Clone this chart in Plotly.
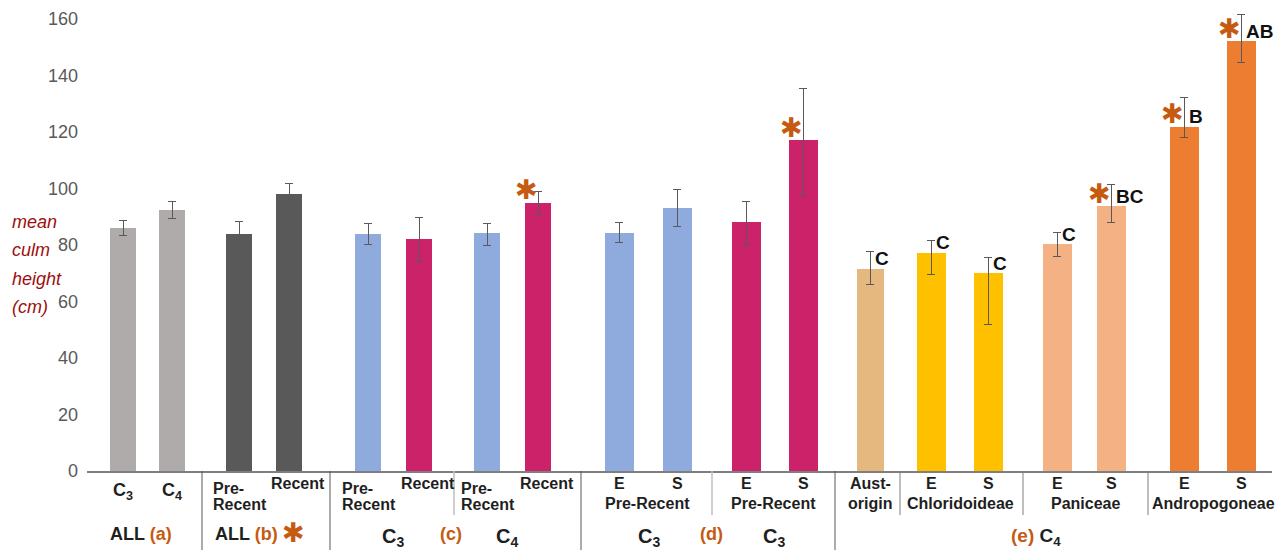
import plotly.graph_objects as go

# ---------------- data ----------------
bar_names = ["ALL C3", "ALL C4", "ALL Pre-Recent", "ALL Recent",
             "C3 Pre-Recent", "C3 Recent", "C4 Pre-Recent", "C4 Recent",
             "C3 Pre-Recent E", "C3 Pre-Recent S", "C3 Recent E", "C3 Recent S",
             "C4 Aust-origin", "Chloridoideae E", "Chloridoideae S",
             "Paniceae E", "Paniceae S", "Andropogoneae E", "Andropogoneae S"]
values = [86.0, 92.3, 83.9, 98.0, 83.9, 82.0, 84.1, 94.9,
          84.2, 93.0, 88.0, 117.0,
          71.6, 77.3, 70.0, 80.2, 93.7, 121.9, 152.2]
err_plus = [2.8, 3.0, 4.4, 3.8, 3.8, 7.9, 3.4, 3.9,
            3.7, 6.8, 7.3, 18.4,
            6.2, 4.4, 5.7, 4.3, 7.8, 10.2, 9.3]
err_minus = [2.8, 3.0, 4.4, 3.8, 3.7, 8.0, 4.4, 4.2,
             3.4, 6.6, 7.8, 19.3,
             5.6, 7.6, 18.3, 4.3, 5.7, 4.0, 7.7]
sig_letters = ["", "", "", "", "", "", "", "",
               "", "", "", "",
               "C", "C", "C", "C", "BC", "B", "AB"]
sig_star = [False, False, False, False, False, False, False, True,
            False, False, False, True,
            False, False, False, False, True, True, True]
y_ticks = [0, 20, 40, 60, 80, 100, 120, 140, 160]

# ---------------- layout / style ----------------
W, H = 1280, 550
ML, MR, MT, MB = 87, 8, 14, 79
PH = H - MT - MB           # plot height in px
AXIS_Y = H - MB            # pixel row of the x axis
# bar slot positions along the x axis (axis units = px)
bar_x = [123, 172, 239, 289, 368, 419, 487, 538,
         619, 677, 746, 803,
         870, 931, 988, 1057, 1111, 1184, 1241]
bar_w = [26] * 8 + [29] * 4 + [27] + [29] * 6

GRAY_L = "#AFABAB"
GRAY_D = "#595959"
BLUE = "#8FAADC"
MAGENTA = "#CB226A"
TAN = "#E5B880"
GOLD = "#FFC000"
PEACH = "#F4B183"
ORANGE = "#ED7D31"
colors = [GRAY_L, GRAY_L, GRAY_D, GRAY_D, BLUE, MAGENTA, BLUE, MAGENTA,
          BLUE, BLUE, MAGENTA, MAGENTA,
          TAN, GOLD, GOLD, PEACH, PEACH, ORANGE, ORANGE]
ACCENT = "#C55A11"
TXT = "#1F1F1F"
FONT = "Liberation Sans, Arial, sans-serif"
STAR = "<b>\u2731</b>"
STAR_FONT = "DejaVu Sans, sans-serif"
STAR_SIZE = 27

fig = go.Figure()
fig.add_trace(go.Bar(
    x=bar_x, y=values, width=bar_w, name="mean culm height",
    marker=dict(color=colors, line=dict(width=0)),
    error_y=dict(type="data", symmetric=False, array=err_plus, arrayminus=err_minus,
                 color="#595959", thickness=1, width=4),
    hovertext=bar_names, showlegend=False,
))


def py(px):
    """pixel row -> paper y"""
    return (AXIS_Y - px) / PH


def px_x(px):
    return (px - ML) / (W - ML - MR)


def label(text, x, ypx, size=16, color=TXT, xanchor="center"):
    fig.add_annotation(text="<b>%s</b>" % text, x=x, xref="x", y=py(ypx), yref="paper",
                       showarrow=False, xanchor=xanchor, yanchor="middle",
                       font=dict(size=size, color=color, family=FONT))


def orange(t):
    return "<span style='color:%s'>%s</span>" % (ACCENT, t)


# significance letters and asterisks
for xi, v, ep, let, st in zip(bar_x, values, err_plus, sig_letters, sig_star):
    if let:
        fig.add_annotation(text="<b>%s</b>" % let, x=xi + 3, y=v, xref="x", yref="y",
                           xanchor="left", yanchor="middle", yshift=10, showarrow=False,
                           font=dict(size=19, color="#111111", family=FONT))
    if st:
        fig.add_annotation(text=STAR, x=xi - 12, y=v, xref="x", yref="y",
                           xanchor="center", yanchor="middle", yshift=13, showarrow=False,
                           font=dict(size=STAR_SIZE, color=ACCENT, family=STAR_FONT))

# first row of category labels
label("C<sub>3</sub>", bar_x[0], 491, size=18)
label("C<sub>4</sub>", bar_x[1], 491, size=18)
for i in (2, 4, 6):
    label("Pre-", bar_x[i] - 28, 488, xanchor="left")
    label("Recent", bar_x[i] - 28, 504, xanchor="left")
    label("Recent", bar_x[i + 1] + 9, 483)
for i in (8, 10):
    label("E", bar_x[i], 483)
    label("S", bar_x[i + 1], 483)
    label("Pre-Recent", (bar_x[i] + bar_x[i + 1]) / 2 - 1, 503)
label("Aust-", bar_x[12], 483)
label("origin", bar_x[12], 503)
for i, name in ((13, "Chloridoideae"), (15, "Paniceae"), (17, "Andropogoneae")):
    label("E", bar_x[i], 483)
    label("S", bar_x[i + 1], 483)
    label(name, (bar_x[i] + bar_x[i + 1]) / 2 + 1, 503)

# second row of group labels
label("ALL " + orange("(a)"), 141, 534, size=18)
label("ALL " + orange("(b)"), 246, 534, size=18)
fig.add_annotation(text=STAR, x=293, y=py(532), xref="x", yref="paper",
                   showarrow=False, xanchor="center", yanchor="middle",
                   font=dict(size=STAR_SIZE, color=ACCENT, family=STAR_FONT))
label("C<sub>3</sub>", 393, 537, size=20)
label(orange("(c)"), 451, 534, size=18)
label("C<sub>4</sub>", 507, 537, size=20)
label("C<sub>3</sub>", 649, 537, size=20)
label(orange("(d)"), 711, 534, size=18)
label("C<sub>3</sub>", 774, 537, size=20)
label(orange("(e)") + " C<sub>4</sub>", 1036, 537, size=19)

# separators under the axis
full_seps = [202, 330, 581, 835]
short_light = [454, 712]
short_dark = [900, 1023, 1148]
for xs in full_seps:
    fig.add_shape(type="line", x0=xs, x1=xs, xref="x", y0=0, y1=py(H), yref="paper",
                  line=dict(color="#595959", width=1))
for xs in short_light:
    fig.add_shape(type="line", x0=xs, x1=xs, xref="x", y0=0, y1=py(515), yref="paper",
                  line=dict(color="#BFBFBF", width=1.5))
for xs in short_dark:
    fig.add_shape(type="line", x0=xs, x1=xs, xref="x", y0=0, y1=py(515), yref="paper",
                  line=dict(color="#7F7F7F", width=1))

# y axis title (4 lines)
for t, ypx in (("mean", 222), ("culm", 250), ("height", 279), ("(cm)", 307)):
    fig.add_annotation(text="<i>%s</i>" % t, x=px_x(10), xref="paper", y=py(ypx), yref="paper",
                       showarrow=False, xanchor="left", yanchor="middle",
                       font=dict(size=18, color="#9C0E0E", family=FONT))

fig.update_layout(
    width=W, height=H,
    margin=dict(l=ML, r=MR, t=MT, b=MB, pad=0),
    paper_bgcolor="white", plot_bgcolor="white",
    bargap=0,
    xaxis=dict(range=[ML, W - MR], showticklabels=False, ticks="", showgrid=False,
               zeroline=False, showline=True, linecolor="#7F7F7F", linewidth=1.5,
               fixedrange=True),
    yaxis=dict(range=[0, PH / 2.825], tickvals=y_ticks, showgrid=False, zeroline=False,
               showline=False, ticks="", ticklabelstandoff=8,
               tickfont=dict(size=18, color="#595959", family=FONT), fixedrange=True),
    font=dict(family=FONT),
)

fig.write_html("out.html", config={"displayModeBar": False},
               post_script="document.body.style.margin='0';")
